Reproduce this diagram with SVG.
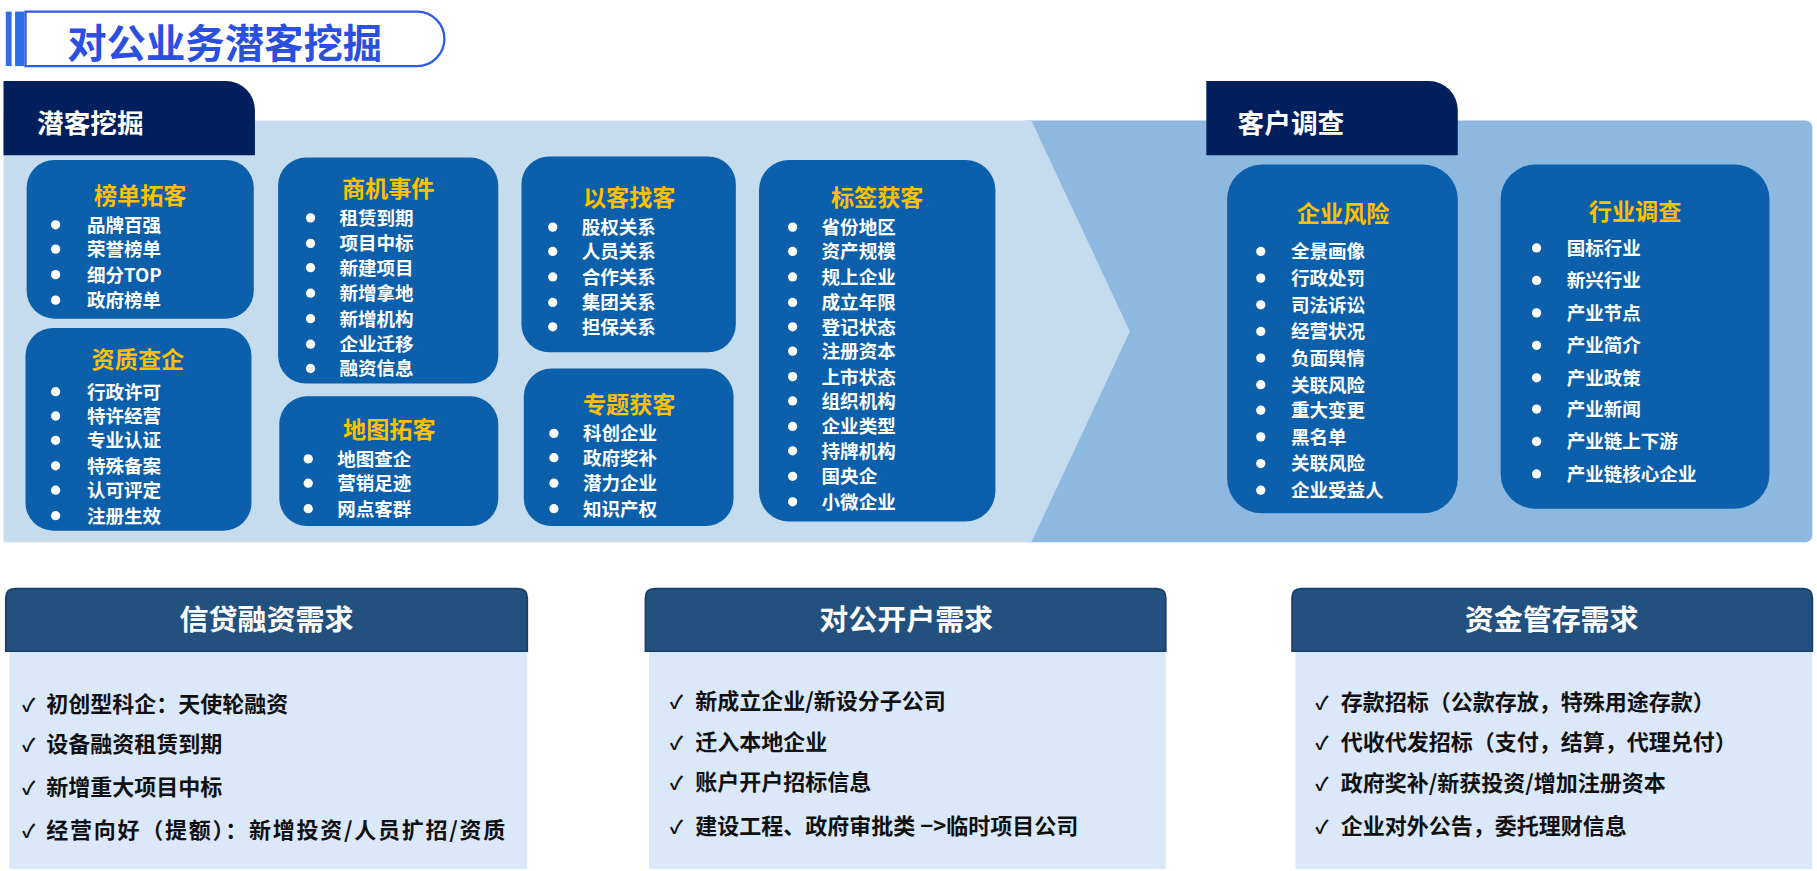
<svg xmlns="http://www.w3.org/2000/svg" width="1817" height="871" viewBox="0 0 1817 871">
<style>
text{font-family:"Noto Sans CJK SC","Liberation Sans",sans-serif;font-weight:bold}
.box{fill:#0b5fab}
.bt{fill:#ffc000;font-size:20px;text-anchor:middle}
.it{fill:#fff;font-size:16px}
.dot{fill:#fff}
.tab{fill:#001f5c}
.tt{fill:#fff;font-size:23px}
.hd{fill:#22507f;stroke:#1a3f66;stroke-width:1.5}
.ht{fill:#fff;font-size:25px;text-anchor:middle}
.bd{fill:#dae8fa}
.ck{fill:#111;font-size:19px}
.cm{fill:#111;font-size:16px;font-weight:normal}
</style>
<rect width="1817" height="871" fill="#fff"/>
<g transform="scale(1.1588)">
<g id="title">
<rect x="5" y="10" width="5" height="47" fill="#2d6fe0"/>
<rect x="13" y="10" width="8" height="47" fill="#2d6fe0"/>
<path d="M22 10 H360 A23 23 0 0 1 360 57 H22 Z" fill="#fff" stroke="#2f5bea" stroke-width="2"/>
<text x="58" y="50" style="fill:#2b4fe0;font-size:34px">对公业务潜客挖掘</text>
</g>
<g id="band">
<rect x="880" y="104" width="684" height="364" rx="6" fill="#8db8e0"/>
<path d="M3 104 H890 L975 286 L890 468 H3 Z" fill="#c5dcef"/>
</g>
<g id="tab1"><path d="M3 70 H195 A25 25 0 0 1 220 95 V134 H3 Z" class="tab"/><text x="32" y="115" class="tt">潜客挖掘</text></g>
<g id="tab2"><path d="M1041 70 H1233 A25 25 0 0 1 1258 95 V134 H1041 Z" class="tab"/><text x="1068" y="115" class="tt">客户调查</text></g>

<g id="n1"><rect x="23" y="138" width="196" height="137" rx="24" class="box"/><text x="121" y="176" class="bt">榜单拓客</text>
<g class="dot"><circle cx="48" cy="194" r="4"/><circle cx="48" cy="215" r="4"/><circle cx="48" cy="237" r="4"/><circle cx="48" cy="259" r="4"/></g>
<text class="it" x="75" y="200">品牌百强</text><text class="it" x="75" y="221">荣誉榜单</text><text class="it" x="75" y="243">细分TOP</text><text class="it" x="75" y="265">政府榜单</text></g>

<g id="n2"><rect x="22" y="283" width="195" height="175" rx="24" class="box"/><text x="119" y="318" class="bt">资质查企</text>
<g class="dot"><circle cx="48" cy="338" r="4"/><circle cx="48" cy="359" r="4"/><circle cx="48" cy="380" r="4"/><circle cx="48" cy="402" r="4"/><circle cx="48" cy="423" r="4"/><circle cx="48" cy="445" r="4"/></g>
<text class="it" x="75" y="344">行政许可</text><text class="it" x="75" y="365">特许经营</text><text class="it" x="75" y="386">专业认证</text><text class="it" x="75" y="408">特殊备案</text><text class="it" x="75" y="429">认可评定</text><text class="it" x="75" y="451">注册生效</text></g>

<g id="n3"><rect x="240" y="136" width="190" height="195" rx="24" class="box"/><text x="335" y="170" class="bt">商机事件</text>
<g class="dot"><circle cx="268" cy="188" r="4"/><circle cx="268" cy="210" r="4"/><circle cx="268" cy="231" r="4"/><circle cx="268" cy="253" r="4"/><circle cx="268" cy="275" r="4"/><circle cx="268" cy="297" r="4"/><circle cx="268" cy="318" r="4"/></g>
<text class="it" x="293" y="194">租赁到期</text><text class="it" x="293" y="216">项目中标</text><text class="it" x="293" y="237">新建项目</text><text class="it" x="293" y="259">新增拿地</text><text class="it" x="293" y="281">新增机构</text><text class="it" x="293" y="303">企业迁移</text><text class="it" x="293" y="324">融资信息</text></g>

<g id="n4"><rect x="241" y="342" width="189" height="112" rx="24" class="box"/><text x="336" y="378" class="bt">地图拓客</text>
<g class="dot"><circle cx="266" cy="396" r="4"/><circle cx="266" cy="417" r="4"/><circle cx="266" cy="439" r="4"/></g>
<text class="it" x="291" y="402">地图查企</text><text class="it" x="291" y="423">营销足迹</text><text class="it" x="291" y="445">网点客群</text></g>

<g id="n5"><rect x="450" y="135" width="185" height="169" rx="24" class="box"/><text x="543" y="178" class="bt">以客找客</text>
<g class="dot"><circle cx="477" cy="196" r="4"/><circle cx="477" cy="217" r="4"/><circle cx="477" cy="239" r="4"/><circle cx="477" cy="261" r="4"/><circle cx="477" cy="282" r="4"/></g>
<text class="it" x="502" y="202">股权关系</text><text class="it" x="502" y="223">人员关系</text><text class="it" x="502" y="245">合作关系</text><text class="it" x="502" y="267">集团关系</text><text class="it" x="502" y="288">担保关系</text></g>

<g id="n6"><rect x="452" y="318" width="181" height="136" rx="24" class="box"/><text x="543" y="356" class="bt">专题获客</text>
<g class="dot"><circle cx="478" cy="374" r="4"/><circle cx="478" cy="395" r="4"/><circle cx="478" cy="417" r="4"/><circle cx="478" cy="439" r="4"/></g>
<text class="it" x="503" y="380">科创企业</text><text class="it" x="503" y="401">政府奖补</text><text class="it" x="503" y="423">潜力企业</text><text class="it" x="503" y="445">知识产权</text></g>

<g id="n7"><rect x="655" y="138" width="204" height="312" rx="26" class="box"/><text x="757" y="178" class="bt">标签获客</text>
<g class="dot"><circle cx="684" cy="196" r="4"/><circle cx="684" cy="217" r="4"/><circle cx="684" cy="239" r="4"/><circle cx="684" cy="261" r="4"/><circle cx="684" cy="282" r="4"/><circle cx="684" cy="303" r="4"/><circle cx="684" cy="325" r="4"/><circle cx="684" cy="346" r="4"/><circle cx="684" cy="368" r="4"/><circle cx="684" cy="389" r="4"/><circle cx="684" cy="411" r="4"/><circle cx="684" cy="433" r="4"/></g>
<text class="it" x="709" y="202">省份地区</text><text class="it" x="709" y="223">资产规模</text><text class="it" x="709" y="245">规上企业</text><text class="it" x="709" y="267">成立年限</text><text class="it" x="709" y="288">登记状态</text><text class="it" x="709" y="309">注册资本</text><text class="it" x="709" y="331">上市状态</text><text class="it" x="709" y="352">组织机构</text><text class="it" x="709" y="374">企业类型</text><text class="it" x="709" y="395">持牌机构</text><text class="it" x="709" y="417">国央企</text><text class="it" x="709" y="439">小微企业</text></g>

<g id="n8"><rect x="1059" y="142" width="199" height="301" rx="30" class="box"/><text x="1159" y="192" class="bt">企业风险</text>
<g class="dot"><circle cx="1088" cy="217" r="4"/><circle cx="1088" cy="240" r="4"/><circle cx="1088" cy="263" r="4"/><circle cx="1088" cy="286" r="4"/><circle cx="1088" cy="309" r="4"/><circle cx="1088" cy="332" r="4"/><circle cx="1088" cy="354" r="4"/><circle cx="1088" cy="377" r="4"/><circle cx="1088" cy="400" r="4"/><circle cx="1088" cy="423" r="4"/></g>
<text class="it" x="1114" y="223">全景画像</text><text class="it" x="1114" y="246">行政处罚</text><text class="it" x="1114" y="269">司法诉讼</text><text class="it" x="1114" y="292">经营状况</text><text class="it" x="1114" y="315">负面舆情</text><text class="it" x="1114" y="338">关联风险</text><text class="it" x="1114" y="360">重大变更</text><text class="it" x="1114" y="383">黑名单</text><text class="it" x="1114" y="406">关联风险</text><text class="it" x="1114" y="429">企业受益人</text></g>

<g id="n9"><rect x="1295" y="142" width="232" height="297" rx="30" class="box"/><text x="1411" y="190" class="bt">行业调查</text>
<g class="dot"><circle cx="1326" cy="214" r="4"/><circle cx="1326" cy="242" r="4"/><circle cx="1326" cy="270" r="4"/><circle cx="1326" cy="298" r="4"/><circle cx="1326" cy="326" r="4"/><circle cx="1326" cy="353" r="4"/><circle cx="1326" cy="381" r="4"/><circle cx="1326" cy="409" r="4"/></g>
<text class="it" x="1352" y="220">国标行业</text><text class="it" x="1352" y="248">新兴行业</text><text class="it" x="1352" y="276">产业节点</text><text class="it" x="1352" y="304">产业简介</text><text class="it" x="1352" y="332">产业政策</text><text class="it" x="1352" y="359">产业新闻</text><text class="it" x="1352" y="387">产业链上下游</text><text class="it" x="1352" y="415">产业链核心企业</text></g>

<g id="c1"><rect x="8" y="562" width="447" height="188" class="bd"/><path d="M5 562 V516 Q5 508 13 508 H447 Q455 508 455 516 V562 Z" class="hd"/><text x="230" y="544" class="ht">信贷融资需求</text>
<g class="cm"><text x="19" y="614">✓</text><text x="19" y="649">✓</text><text x="19" y="686">✓</text><text x="19" y="723">✓</text></g>
<text class="ck" x="40" y="614">初创型科企：天使轮融资</text><text class="ck" x="40" y="649">设备融资租赁到期</text><text class="ck" x="40" y="686">新增重大项目中标</text><text class="ck" x="40" y="723" textLength="396">经营向好（提额）：新增投资/人员扩招/资质</text></g>
<g id="c2"><rect x="560" y="562" width="446" height="188" class="bd"/><path d="M557 562 V516 Q557 508 565 508 H998 Q1006 508 1006 516 V562 Z" class="hd"/><text x="782" y="544" class="ht">对公开户需求</text>
<g class="cm"><text x="578" y="612">✓</text><text x="578" y="647">✓</text><text x="578" y="682">✓</text><text x="578" y="720">✓</text></g>
<text class="ck" x="600" y="612">新成立企业/新设分子公司</text><text class="ck" x="600" y="647">迁入本地企业</text><text class="ck" x="600" y="682">账户开户招标信息</text><text class="ck" x="600" y="720">建设工程、政府审批类 −&gt;临时项目公司</text></g>
<g id="c3"><rect x="1118" y="562" width="446" height="188" class="bd"/><path d="M1115 562 V516 Q1115 508 1123 508 H1556 Q1564 508 1564 516 V562 Z" class="hd"/><text x="1339" y="544" class="ht">资金管存需求</text>
<g class="cm"><text x="1135" y="613">✓</text><text x="1135" y="647">✓</text><text x="1135" y="683">✓</text><text x="1135" y="720">✓</text></g>
<text class="ck" x="1157" y="613">存款招标（公款存放，特殊用途存款）</text><text class="ck" x="1157" y="647">代收代发招标（支付，结算，代理兑付）</text><text class="ck" x="1157" y="683">政府奖补/新获投资/增加注册资本</text><text class="ck" x="1157" y="720">企业对外公告，委托理财信息</text></g>
</g>
<g id="connectors"/>
</svg>
